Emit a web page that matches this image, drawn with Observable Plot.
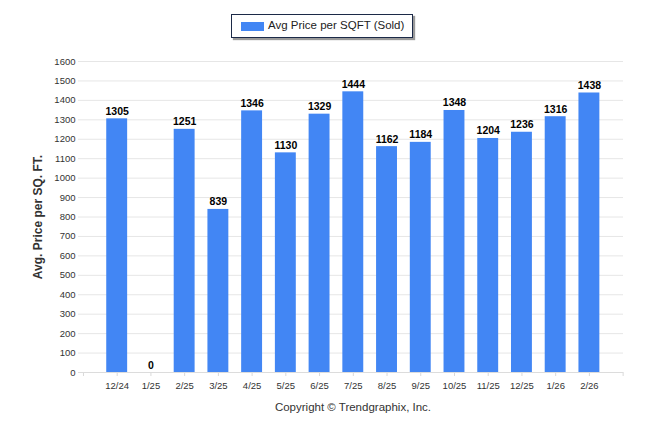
<!DOCTYPE html>
<html>
<head>
<meta charset="utf-8">
<script src="https://cdn.jsdelivr.net/npm/d3@7"></script>
<script src="https://cdn.jsdelivr.net/npm/@observablehq/plot@0.6"></script>
<style>
  html, body { margin: 0; padding: 0; background: #fff; }
  #wrap { position: relative; width: 646px; height: 434px; overflow: hidden; font-family: "Liberation Sans", Arial, sans-serif; }
  #chart { position: absolute; left: 0; top: 0; }
  #legend { position: absolute; left: 231px; top: 14px; width: 182px; height: 24px; border: 1px solid #1c2a48; box-shadow: 2px 2px 1px #9a9a9a; background: #fff; box-sizing: border-box; }
  #legend .sw { position: absolute; left: 9px; top: 7px; width: 23px; height: 9px; background: #4286f4; }
  #legend .tx { position: absolute; left: 36px; top: 4px; font-size: 11.5px; color: #222; white-space: nowrap; }
  #caption { position: absolute; left: 0; width: 706px; top: 401px; text-align: center; font-size: 11.5px; color: #333; }
</style>
</head>
<body>
<div id="wrap">
  <div id="chart"></div>
  <div id="legend"><div class="sw"></div><div class="tx">Avg Price per SQFT (Sold)</div></div>
  <div id="caption">Copyright &copy; Trendgraphix, Inc.</div>
</div>
<script>
const months = ["12/24","1/25","2/25","3/25","4/25","5/25","6/25","7/25","8/25","9/25","10/25","11/25","12/25","1/26","2/26"];
const values = [1305, 0, 1251, 839, 1346, 1130, 1329, 1444, 1162, 1184, 1348, 1204, 1236, 1316, 1438];
const yTicks = [0,100,200,300,400,500,600,700,800,900,1000,1100,1200,1300,1400,1500,1600];
const seriesName = "Avg Price per SQFT (Sold)";

const data = months.map((m, i) => ({month: m, value: values[i]}));
const domainX = ["\u2009", ...months, "\u200A"];

const chart = Plot.plot({
  width: 646,
  height: 434,
  marginTop: 61,
  marginBottom: 62,
  marginLeft: 78,
  marginRight: 23,
  style: {fontFamily: "Liberation Sans, Arial, sans-serif", fontSize: "9.5px", color: "#333", background: "transparent"},
  x: {type: "band", domain: domainX, range: [66.1, 639.5], paddingInner: 0.38, paddingOuter: 0.19, align: 0.5, round: false},
  y: {domain: [0, 1600], range: [372, 61]},
  marks: [
    Plot.ruleY(yTicks, {stroke: "#e6e6e6", strokeWidth: 1}),
    Plot.barY(data, {x: "month", y: "value", fill: "#4286f4"}),
    Plot.axisX({tickSize: 4, tickPadding: 6, stroke: "#d9d9d9", tickFormat: d => months.includes(d) ? d : "", fill: "#333", fontSize: 9.5, label: null}),
    Plot.ruleY([0], {stroke: "#dcdcdc"}),
    Plot.axisY({ticks: yTicks, tickFormat: d => String(d), tickSize: 0, tickPadding: 3, fill: "#333", fontSize: 9.5, label: null}),
    Plot.text(data, {x: "month", y: "value", text: d => String(d.value), dy: -4, lineAnchor: "bottom", fontWeight: "bold", fontSize: 10.5, fill: "#000"}),
    Plot.text(["Avg. Price per SQ. FT."], {frameAnchor: "left", dx: -40, rotate: -90, fontWeight: "bold", fontSize: 12, fill: "#333", text: d => d, textAnchor: "middle"})
  ]
});
document.getElementById("chart").appendChild(chart);
</script>
</body>
</html>
